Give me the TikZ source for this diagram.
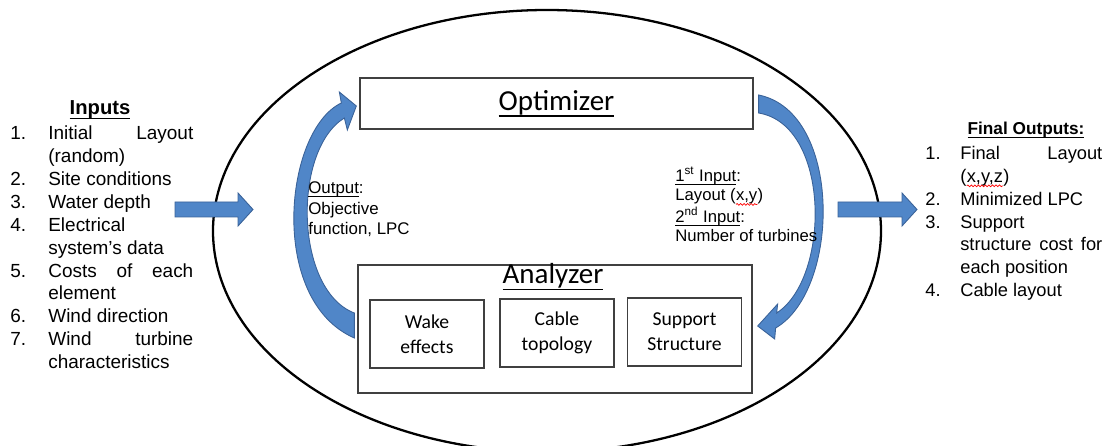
\documentclass[tikz,border=0pt]{standalone}
\usepackage{fontspec}
\setmainfont{Liberation Sans}
\newfontfamily\calibri{Carlito}
\usepackage{array}
\usetikzlibrary{calc,decorations.pathmorphing}
\definecolor{arrowblue}{RGB}{80,134,200}
\definecolor{arrowedge}{RGB}{58,98,152}
\definecolor{boxgray}{RGB}{64,64,64}
\newcommand{\undl}[1]{\setbox0=\hbox{#1}\rlap{\vrule height -0.17em depth 0.23em width \wd0}\box0}
\newcommand{\redwave}[1]{\tikz[baseline=(w.base)]{\node[inner sep=0pt,outer sep=0pt,anchor=base] (w) {#1};
  \draw[red,line width=0.4pt,decorate,decoration={snake,amplitude=0.5pt,segment length=2pt}]
    ([yshift=-2pt]w.base west) -- ([yshift=-2pt]w.base east);}}
\newcommand{\jfill}{\hskip 0pt plus 1fill\relax}
\newcommand{\blockarrow}[2]{%
  \draw[blockarrow] ($(#1)+(0,-7.5)$) -- ($(#2)+(-15,-7.5)$) -- ($(#2)+(-15,-16.5)$) -- (#2)
    -- ($(#2)+(-15,16.5)$) -- ($(#2)+(-15,7.5)$) -- ($(#1)+(0,7.5)$) -- cycle;}

\begin{document}
\begin{tikzpicture}[x=0.02cm,y=-0.02cm,
  box/.style={draw=boxgray,line width=0.8pt,inner sep=0pt},
  title/.style={font=\calibri\fontsize{16.5}{20}\selectfont},
  subbox/.style={box,minimum width=2.28cm,minimum height=1.36cm,align=center,font=\calibri\fontsize{11.2}{14.2}\selectfont},
  note/.style={inner sep=0pt,anchor=base west},
  blockarrow/.style={fill=arrowblue,draw=arrowedge,line width=0.5pt}]
  \useasboundingbox (0,0) rectangle (1107,446);
  \draw[line width=1.3pt] (547,231) ellipse [x radius=334,y radius=221];

  \node[box,title,minimum width=7.86cm,minimum height=1.02cm] (optimizer) at (556.5,103.5) {\undl{Optimizer}};
  \node[box,minimum width=7.88cm,minimum height=2.56cm] (analyzer) at (555,329) {};
  \node[title] (analyzertitle) at (553,277) {\undl{Analyzer}};
  \node[subbox] (wake) at (427,334) {Wake\\effects};
  \node[subbox] (cable) at (557,333) {Cable\\topology};
  \node[subbox] (support) at (684.5,332) {Support\\Structure};

  \draw[blockarrow] ($(analyzer.west)+(-3,9)$)
    .. controls ($(analyzer.west)+(-90,-29)$) and ($(optimizer.west)+(-75,26.5)$) .. ($(optimizer.west)+(-18,-0.5)$)
    -- ($(optimizer.west)+(-20,-11.5)$) -- ($(optimizer.west)+(-3,2.5)$) -- ($(optimizer.west)+(-12,26.5)$)
    -- ($(optimizer.west)+(-15,14.5)$)
    .. controls ($(optimizer.west)+(-67,46.5)$) and ($(analyzer.west)+(-63,-39)$) .. ($(analyzer.west)+(-3,-16)$)
    -- cycle;
  \draw[blockarrow] ($(optimizer.east)+(5,-8.5)$)
    .. controls ($(optimizer.east)+(89,8.5)$) and ($(analyzer.east)+(88,-39)$) .. ($(analyzer.east)+(23,-1)$)
    -- ($(analyzer.east)+(22,10)$) -- ($(analyzer.east)+(5,-3)$) -- ($(analyzer.east)+(25,-25)$)
    -- ($(analyzer.east)+(24,-16)$)
    .. controls ($(analyzer.east)+(78,-51)$) and ($(optimizer.east)+(77,21.5)$) .. ($(optimizer.east)+(5,9.5)$)
    -- cycle;

  \node[font=\bfseries\fontsize{11.5}{14}\selectfont] (inputstitle) at (100,110) {\undl{Inputs}};
  \node[note,font=\fontsize{10.8}{13}\selectfont] (inputs) at (10,140) {%
    \begin{tabular}[t]{@{}p{0.76cm}@{}p{2.9cm}@{}}
      1. & Initial\jfill Layout\\
         & (random)\\
      2. & Site conditions\\
      3. & Water depth\\
      4. & Electrical\\
         & system's data\\
      5. & Costs\jfill of\jfill each\\
         & element\\
      6. & Wind direction\\
      7. & Wind\jfill turbine\\
         & characteristics
    \end{tabular}};

  \node[font=\bfseries\fontsize{9.8}{12}\selectfont] (outputstitle) at (1026,130) {\undl{Final Outputs:}};
  \node[note,font=\fontsize{10.4}{13}\selectfont] (outputs) at (925,159.5) {%
    \begin{tabular}[t]{@{}p{0.7cm}@{}p{2.84cm}@{}}
      1. & Final\jfill Layout\\
         & (\redwave{x,y,z})\\
      2. & Minimized LPC\\
      3. & Support\\
         & structure\jfill cost\jfill for\\
         & each position\\
      4. & Cable layout
    \end{tabular}};

  \node[note,anchor=north west,align=left,font=\fontsize{9.6}{11.9}\selectfont] (outputnote) at (308,181)
    {\undl{Output}:\\Objective\\function, LPC};
  \node[note,anchor=north west,align=left,font=\fontsize{9.5}{11}\selectfont] (inputnote) at (675,167)
    {\undl{1\textsuperscript{st} Input}:\\Layout (\redwave{x,y})\\\undl{2\textsuperscript{nd} Input}:\\Number of turbines};

  \coordinate (inA) at (175,209.5);
  \coordinate (inB) at (253,209.5);
  \coordinate (outA) at (838,209.5);
  \coordinate (outB) at (917,209.5);
  \blockarrow{inA}{inB}
  \blockarrow{outA}{outB}
\end{tikzpicture}
\end{document}
